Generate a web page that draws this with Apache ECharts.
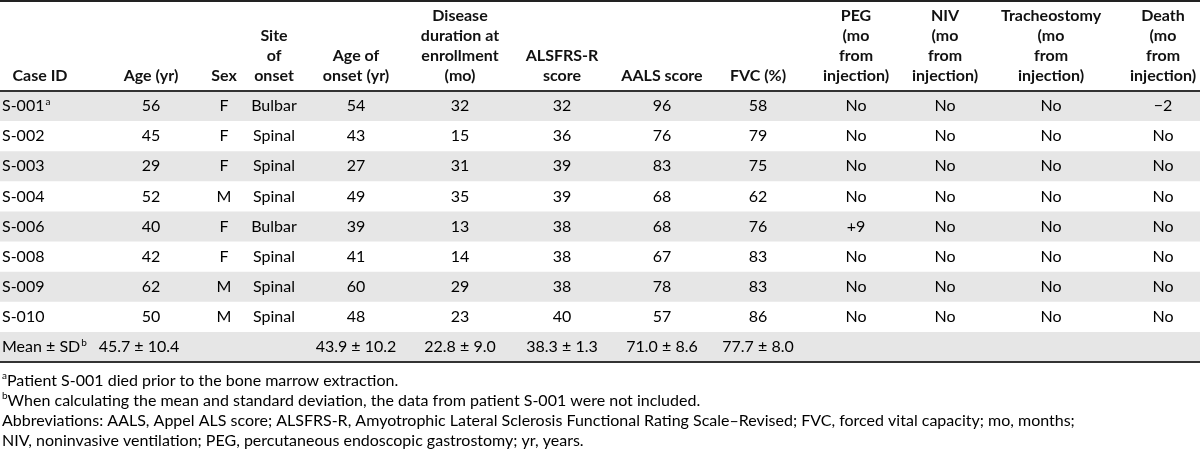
<!DOCTYPE html>
<html>
<head>
<meta charset="utf-8">
<script src="https://cdn.jsdelivr.net/npm/echarts@6/dist/echarts.min.js"></script>
<style>
html,body{margin:0;padding:0;background:#fff;}
#chart{width:1200px;height:458px;}
</style>
</head>
<body>
<div id="chart"></div>
<script>
// ---------------- DATA ----------------
const headers = ['Case ID', 'Age (yr)', 'Sex', 'Site\nof\nonset', 'Age of\nonset (yr)',
  'Disease\nduration at\nenrollment\n(mo)', 'ALSFRS-R\nscore', 'AALS score', 'FVC (%)',
  'PEG\n(mo\nfrom\ninjection)', 'NIV\n(mo\nfrom\ninjection)', 'Tracheostomy\n(mo\nfrom\ninjection)',
  'Death\n(mo\nfrom\ninjection)'];
const caseIds = ['S-001', 'S-002', 'S-003', 'S-004', 'S-006', 'S-008', 'S-009', 'S-010'];
const caseNotes = ['a', '', '', '', '', '', '', ''];
const ages = [56, 45, 29, 52, 40, 42, 62, 50];
const sexes = ['F', 'F', 'F', 'M', 'F', 'F', 'M', 'M'];
const sites = ['Bulbar', 'Spinal', 'Spinal', 'Spinal', 'Bulbar', 'Spinal', 'Spinal', 'Spinal'];
const onsetAges = [54, 43, 27, 49, 39, 41, 60, 48];
const durations = [32, 15, 31, 35, 13, 14, 29, 23];
const alsfrsScores = [32, 36, 39, 39, 38, 38, 38, 40];
const aalsScores = [96, 76, 83, 68, 68, 67, 78, 57];
const fvcValues = [58, 79, 75, 62, 76, 83, 83, 86];
const pegValues = ['No', 'No', 'No', 'No', '+9', 'No', 'No', 'No'];
const nivValues = ['No', 'No', 'No', 'No', 'No', 'No', 'No', 'No'];
const trachValues = ['No', 'No', 'No', 'No', 'No', 'No', 'No', 'No'];
const deathValues = ['\u22122', 'No', 'No', 'No', 'No', 'No', 'No', 'No'];
const meanLabel = 'Mean \u00b1 SD';
const meanNote = 'b';
const meanValues = ['', '45.7 \u00b1 10.4', '', '', '43.9 \u00b1 10.2', '22.8 \u00b1 9.0',
  '38.3 \u00b1 1.3', '71.0 \u00b1 8.6', '77.7 \u00b1 8.0', '', '', '', ''];
const footnotes = [
  ['a', 'Patient S-001 died prior to the bone marrow extraction.'],
  ['b', 'When calculating the mean and standard deviation, the data from patient S-001 were not included.'],
  ['', 'Abbreviations: AALS, Appel ALS score; ALSFRS-R, Amyotrophic Lateral Sclerosis Functional Rating Scale\u2013Revised; FVC, forced vital capacity; mo, months;'],
  ['', 'NIV, noninvasive ventilation; PEG, percutaneous endoscopic gastrostomy; yr, years.']
];

// ---------------- LAYOUT ----------------
const colX = [40, 151, 224, 274, 356, 460, 562, 662, 758, 856, 945, 1051, 1163];
const firstColLeft = 2;
const meanAgeShift = -12;
const FONT = 'Lato, "Noto Sans", sans-serif';
const FS = 16;
const TXT = '#111';
const BAND = '#e6e6e6';

const rowNames = caseIds.concat([meanLabel]);
const columns = [caseIds, ages, sexes, sites, onsetAges, durations, alsfrsScores, aalsScores,
  fvcValues, pegValues, nivValues, trachValues, deathValues];

const cells = [];
for (let r = 0; r < caseIds.length; r++) {
  for (let c = 0; c < columns.length; c++) {
    cells.push({ value: [c, r], text: String(columns[c][r]), note: c === 0 ? caseNotes[r] : '' });
  }
}
const meanRow = caseIds.length;
cells.push({ value: [0, meanRow], text: meanLabel, note: meanNote });
meanValues.forEach((v, c) => { if (v) cells.push({ value: [c, meanRow], text: v, note: '' }); });

const bandRows = [];
rowNames.forEach((n, i) => { if (i % 2 === 0) bandRows.push([0, i]); });

const richStyles = {
  n: { fontFamily: FONT, fontSize: FS, color: TXT, lineHeight: 18 },
  s: { fontFamily: FONT, fontSize: 10, color: TXT, lineHeight: 18, verticalAlign: 'top', padding: [0, 0, 0, 1] }
};

const chart = echarts.init(document.getElementById('chart'), null, { renderer: 'canvas' });
chart.setOption({
  animation: false,
  backgroundColor: '#fff',
  grid: { left: 0, right: 0, top: 91, bottom: 96, containLabel: false },
  xAxis: { type: 'value', min: 0, max: 1200, show: false },
  yAxis: { type: 'category', data: rowNames, inverse: true, show: false },
  graphic: [
    { type: 'rect', shape: { x: 0, y: 0, width: 1200, height: 2 }, style: { fill: '#222' } },
    {
      type: 'text', left: firstColLeft, top: 371,
      style: {
        text: footnotes.map(f => (f[0] ? '{s|' + f[0] + '}' : '') + '{n|' + f[1] + '}').join('\n'),
        rich: {
          n: { fontFamily: FONT, fontSize: FS, color: TXT, lineHeight: 20 },
          s: { fontFamily: FONT, fontSize: 10, color: TXT, lineHeight: 20, verticalAlign: 'top' }
        }
      }
    }
  ],
  series: [
    {
      type: 'custom', name: 'bands', silent: true, z: 1,
      data: bandRows,
      renderItem: function (params, api) {
        const p = api.coord([0, api.value(1)]);
        const h = api.size([0, 1])[1];
        return { type: 'rect', shape: { x: params.coordSys.x, y: p[1] - h / 2, width: params.coordSys.width, height: h }, style: { fill: BAND } };
      }
    },
    {
      type: 'custom', name: 'rules', silent: true, z: 3,
      data: [[0, 0, -1], [0, rowNames.length - 1, 1]],
      renderItem: function (params, api) {
        const p = api.coord([0, api.value(1)]);
        const h = api.size([0, 1])[1];
        const y = p[1] + api.value(2) * h / 2;
        return { type: 'rect', shape: { x: params.coordSys.x, y: y - 1, width: params.coordSys.width, height: 2 }, style: { fill: '#333' } };
      }
    },
    {
      type: 'custom', name: 'headers', silent: true, z: 4,
      data: headers.map((h, c) => [c, 0]),
      renderItem: function (params, api) {
        const c = api.value(0);
        const p = api.coord([colX[c], 0]);
        const h = api.size([0, 1])[1];
        return {
          type: 'text', x: p[0], y: p[1] - h / 2 - 5,
          style: {
            text: headers[c], fill: TXT, fontFamily: FONT, fontWeight: 'bold', fontSize: FS,
            lineHeight: 20, align: 'center', verticalAlign: 'bottom'
          }
        };
      }
    },
    {
      type: 'custom', name: 'cells', silent: true, z: 5,
      data: cells.map(c => c.value),
      renderItem: function (params, api) {
        const cell = cells[params.dataIndex];
        const c = api.value(0), r = api.value(1);
        const p = api.coord([colX[c], r]);
        let x = p[0], align = 'center';
        if (c === 0) { x = params.coordSys.x + firstColLeft; align = 'left'; }
        if (r === meanRow && c === 1) { x += meanAgeShift; }
        const text = '{n|' + cell.text + '}' + (cell.note ? '{s|' + cell.note + '}' : '');
        return {
          type: 'text', x: x, y: p[1],
          style: { text: text, rich: richStyles, align: align, verticalAlign: 'middle' }
        };
      }
    }
  ]
});
</script>
</body>
</html>
